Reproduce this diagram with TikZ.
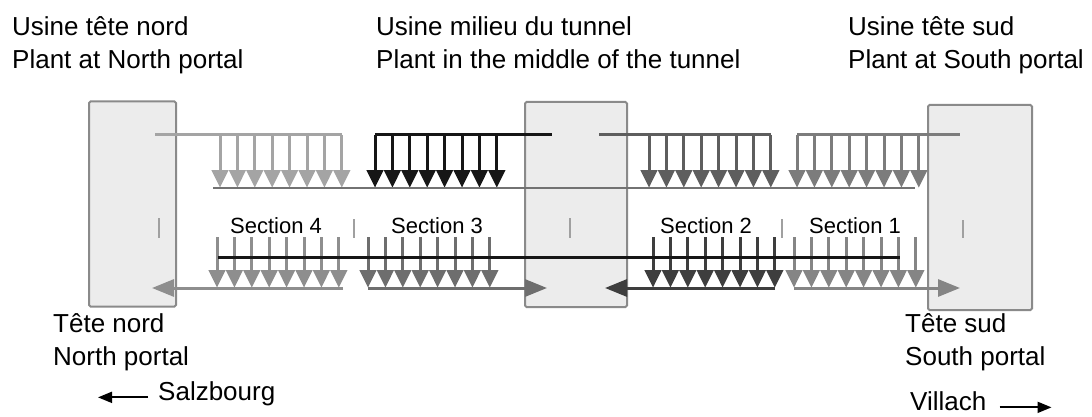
\documentclass[tikz,border=0pt]{standalone}
\usepackage{fontspec}
\setmainfont{Liberation Sans}
\usetikzlibrary{arrows.meta}

\definecolor{plantfill}{HTML}{ECECEC}
\definecolor{boxgray}{HTML}{8A8A8A}
\definecolor{tickgray}{HTML}{A0A0A0}
\definecolor{secfour}{HTML}{A4A4A4}
\definecolor{secthree}{HTML}{161616}
\definecolor{sectwo}{HTML}{5E5E5E}
\definecolor{secone}{HTML}{7C7C7C}
\definecolor{lowfour}{HTML}{8E8E8E}
\definecolor{lowthree}{HTML}{6E6E6E}
\definecolor{lowtwo}{HTML}{3E3E3E}
\definecolor{lowone}{HTML}{858585}
\definecolor{retgray}{HTML}{727272}

% rangee de 8 jets: x du premier, y haut, y des pointes, couleur
\newcommand{\jetrow}[4]{%
  \foreach \k in {0,...,7}{
    \draw[#4,line width=3pt] (#1+\k*17.4,#2) -- (#1+\k*17.4,#3+2);
    \fill[#4] (#1+\k*17.4-8.7,#3) -- (#1+\k*17.4+8.7,#3) -- (#1+\k*17.4,#3+17.5) -- cycle;
  }}

\begin{document}
\begin{tikzpicture}[x=1pt,y=-1pt,
    plant/.style={draw=boxgray,fill=plantfill,line width=2pt,rounded corners=1.5pt,
      minimum width=#1,minimum height=205pt,inner sep=0pt},
    lbl/.style={inner sep=0pt,font=\fontsize{26}{31}\selectfont},
    seclbl/.style={inner sep=0pt,font=\fontsize{22}{26}\selectfont},
    tick/.style={tickgray,line width=1.5pt},
    duct/.style={line width=3pt},
    flow/.style={line width=3pt,-{Triangle[length=22pt,width=17pt]}},
    dirarrow/.style={black,line width=1.8pt,-{Triangle[length=14pt,width=11pt]}}]

    \useasboundingbox (0,0) rectangle (1092,417);

    % Usines (blocs)
    \node[plant=87pt]  (north)  at (132.5,204) {};
    \node[plant=102pt] (middle) at (576,204.5) {};
    \node[plant=104pt] (south)  at (980,207.5) {};

    % Petits traits de reperage
    \draw[tick] (159,218) -- (159,238);
    \draw[tick] (354,219) -- (354,238);
    \draw[tick] (570,218) -- (570,238);
    \draw[tick] (782,219) -- (782,238);
    \draw[tick] (963,220) -- (963,238);

    % Points d'entree / sortie dans les usines
    \coordinate (n-sup)  at (155,135);
    \coordinate (m-supl) at (552,135);
    \coordinate (m-supr) at (599,135);
    \coordinate (s-sup)  at (960,135);
    \coordinate (n-in)   at (152,288);
    \coordinate (m-inl)  at (547,288);
    \coordinate (m-inr)  at (605,288);
    \coordinate (s-in)   at (960,288);

    % Air frais (en haut)
    \draw[secfour,duct]  (n-sup) -- (341.8,135);
    \jetrow{220}{135}{170}{secfour}
    \draw[secthree,duct] (375,135) -- (m-supl);
    \jetrow{375}{135}{170}{secthree}
    \draw[sectwo,duct]   (m-supr) -- (770.8,135);
    \jetrow{649}{135}{170}{sectwo}
    \draw[secone,duct]   (797,135) -- (s-sup);
    \jetrow{797}{135}{170}{secone}

    % Conduite inferieure du haut
    \draw[retgray,line width=2.5pt] (213,188) -- (915,188);

    % Air vicie (en bas)
    \jetrow{217}{237}{270}{lowfour}
    \draw[lowfour,flow]  (343,288) -- (n-in);
    \jetrow{368}{237}{270}{lowthree}
    \draw[lowthree,flow] (368,288) -- (m-inl);
    \jetrow{653}{237}{270}{lowtwo}
    \draw[lowtwo,flow]   (775,288) -- (m-inr);
    \jetrow{794}{237}{270}{lowone}
    \draw[lowone,flow]   (794,288) -- (s-in);

    % Ligne noire
    \draw[secthree,duct] (218,257) -- (900,257);

    % Sections
    \node[seclbl,anchor=base] (sec4) at (276,233) {Section 4};
    \node[seclbl,anchor=base] (sec3) at (437,233) {Section 3};
    \node[seclbl,anchor=base] (sec2) at (706,233) {Section 2};
    \node[seclbl,anchor=base] (sec1) at (855,233) {Section 1};

    % Titres
    \node[lbl,anchor=base west] (nfr) at (12,36)  {Usine tête nord};
    \node[lbl,anchor=base west] (nen) at (12,69)  {Plant at North portal};
    \node[lbl,anchor=base west] (mfr) at (376,36) {Usine milieu du tunnel};
    \node[lbl,anchor=base west] (men) at (376,69) {Plant in the middle of the tunnel};
    \node[lbl,anchor=base west] (sfr) at (848,36) {Usine tête sud};
    \node[lbl,anchor=base west] (sen) at (848,69) {Plant at South portal};

    % Tetes
    \node[lbl,anchor=base west] (tnfr) at (53,332)  {Tête nord};
    \node[lbl,anchor=base west] (tnen) at (53,365)  {North portal};
    \node[lbl,anchor=base west] (tsfr) at (905,332) {Tête sud};
    \node[lbl,anchor=base west] (tsen) at (905,365) {South portal};

    % Directions
    \node[lbl,anchor=base west] (salz) at (158,400) {Salzbourg};
    \draw[dirarrow] ([xshift=-10pt]salz.mid west) -- ++(-50,0);
    \node[lbl,anchor=base west] (vil) at (910,410) {Villach};
    \draw[dirarrow] ([xshift=13pt]vil.mid east) -- ++(52,0);

\end{tikzpicture}
\end{document}
